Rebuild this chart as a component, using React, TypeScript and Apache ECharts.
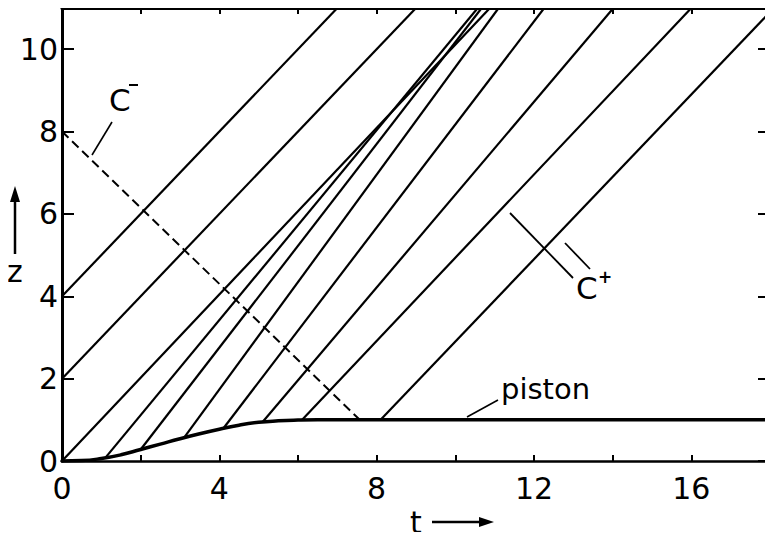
import React, { useEffect, useRef } from "react";
import * as echarts from "echarts";

// Piston path z(t)
const pistonT = [0, 0.5, 1, 1.5, 2, 2.5, 3, 3.5, 4, 4.5, 5, 5.5, 6, 6.5, 7, 18];
const pistonZ = [0, 0.01, 0.06, 0.15, 0.28, 0.41, 0.54, 0.66, 0.77, 0.87, 0.94, 0.975, 0.993, 1, 1, 1];

// C+ characteristics: start point and end point of each straight line
const cPlusStartT = [0, 0, 0, 1.1, 2.0, 3.1, 4.1, 5.1, 6.1, 8.1];
const cPlusStartZ = [4, 2, 0, 0.075, 0.28, 0.56, 0.79, 0.945, 0.995, 1];
const cPlusEndT = [7, 9, 10.88, 10.57, 10.67, 11.1, 12.26, 14.02, 16.0, 18];
const cPlusEndZ = [11, 11, 11, 11, 11, 11, 11, 11, 11, 10.9];

// C- characteristic (dashed)
const cMinusT = [0, 7.57];
const cMinusZ = [8, 1];

// Tick labels
const tLabels = [0, 4, 8, 12, 16];
const zLabels = [0, 2, 4, 6, 8, 10];

const FONT = "DejaVu Sans";
const INK = "#000";

export default function App() {
  const ref = useRef<HTMLDivElement>(null);

  useEffect(() => {
    if (!ref.current) return;
    const chart = echarts.init(ref.current, undefined, { renderer: "svg" });

    const axisLine = (w: number) => ({ show: true, onZero: false, lineStyle: { color: INK, width: w } });
    const tick = (len: number) => ({ show: true, inside: true, length: len, lineStyle: { color: INK, width: 2 } });

    const cPlusSeries = cPlusStartT.map((t0, i) => ({
      type: "line",
      data: [
        [t0, cPlusStartZ[i]],
        [cPlusEndT[i], cPlusEndZ[i]],
      ],
      symbol: "none",
      silent: true,
      lineStyle: { color: INK, width: 2.2 },
      z: 3,
    }));

    const option: any = {
      animation: false,
      backgroundColor: "#fff",
      grid: { left: 62, right: -9, top: 8, bottom: 79, containLabel: false },
      xAxis: [
        {
          type: "value",
          position: "bottom",
          min: 0,
          max: 18,
          interval: 2,
          axisLine: axisLine(2.5),
          axisTick: tick(6),
          axisLabel: {
            color: INK,
            fontSize: 30,
            fontFamily: FONT,
            margin: 12,
            formatter: (v: number) => (tLabels.includes(v) ? String(v) : ""),
          },
          splitLine: { show: false },
        },
        {
          type: "value",
          position: "top",
          min: 0,
          max: 18,
          interval: 2,
          axisLine: axisLine(3),
          axisTick: tick(6),
          axisLabel: { show: false },
          splitLine: { show: false },
        },
      ],
      yAxis: [
        {
          type: "value",
          position: "left",
          min: 0,
          max: 11,
          interval: 2,
          axisLine: axisLine(3),
          axisTick: tick(12),
          axisLabel: {
            color: INK,
            fontSize: 30,
            fontFamily: FONT,
            margin: 4,
            formatter: (v: number) => (zLabels.includes(v) ? String(v) : ""),
          },
          splitLine: { show: false },
        },
        {
          type: "value",
          position: "right",
          min: 0,
          max: 11,
          interval: 2,
          axisLine: axisLine(3),
          axisTick: tick(12),
          axisLabel: { show: false },
          splitLine: { show: false },
        },
      ],
      series: [
        ...cPlusSeries,
        {
          type: "line",
          data: cMinusT.map((t, i) => [t, cMinusZ[i]]),
          symbol: "none",
          silent: true,
          lineStyle: { color: INK, width: 2, type: [9, 5] },
          z: 3,
        },
        {
          type: "line",
          data: pistonT.map((t, i) => [t, pistonZ[i]]),
          symbol: "none",
          silent: true,
          smooth: 0.5,
          lineStyle: { color: INK, width: 3.5, join: "round", cap: "round" },
          z: 4,
        },
      ],
      graphic: [
        // C- label with leader
        { type: "text", left: 109, top: 84, style: { text: "C", fontSize: 31, fontFamily: FONT, fill: INK } },
        { type: "line", shape: { x1: 129, y1: 85, x2: 138, y2: 85 }, style: { stroke: INK, lineWidth: 2 } },
        { type: "line", shape: { x1: 112, y1: 122, x2: 92, y2: 155 }, style: { stroke: INK, lineWidth: 1.6 } },
        // C+ label with leaders
        { type: "line", shape: { x1: 510, y1: 213, x2: 573, y2: 278 }, style: { stroke: INK, lineWidth: 1.8 } },
        { type: "line", shape: { x1: 565, y1: 243, x2: 590, y2: 269 }, style: { stroke: INK, lineWidth: 1.8 } },
        { type: "text", left: 576, top: 272, style: { text: "C", fontSize: 31, fontFamily: FONT, fill: INK } },
        { type: "text", left: 598, top: 268, style: { text: "+", fontSize: 17, fontWeight: "bold", fontFamily: FONT, fill: INK } },
        // piston label with leader
        { type: "text", left: 501, top: 374, style: { text: "piston", fontSize: 29, fontFamily: FONT, fill: INK } },
        { type: "line", shape: { x1: 498, y1: 400, x2: 467, y2: 417 }, style: { stroke: INK, lineWidth: 1.6 } },
        // z axis title with arrow
        { type: "text", left: 7, top: 256, style: { text: "z", fontSize: 30, fontFamily: FONT, fill: INK } },
        { type: "line", shape: { x1: 15, y1: 254, x2: 15, y2: 198 }, style: { stroke: INK, lineWidth: 2.5 } },
        { type: "polygon", shape: { points: [[15, 186], [10, 202], [20, 202]] }, style: { fill: INK } },
        // t axis title with arrow
        { type: "text", left: 410, top: 507, style: { text: "t", fontSize: 30, fontFamily: FONT, fill: INK } },
        { type: "line", shape: { x1: 432, y1: 522, x2: 482, y2: 522 }, style: { stroke: INK, lineWidth: 2.5 } },
        { type: "polygon", shape: { points: [[494, 522], [479, 517], [479, 527]] }, style: { fill: INK } },
      ],
    };

    chart.setOption(option);
    return () => chart.dispose();
  }, []);

  return <div ref={ref} style={{ width: 773, height: 540, margin: -8 }} />;
}
